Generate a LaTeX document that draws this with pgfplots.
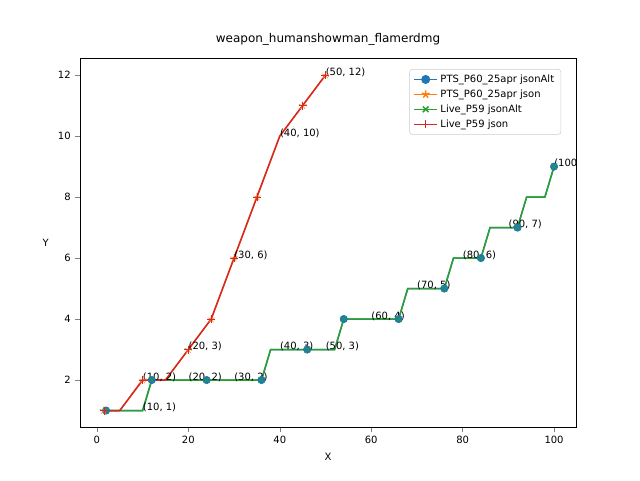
\documentclass[border=0pt]{standalone}
\usepackage{pgfplots}
\pgfplotsset{compat=1.18}
\usepackage{fontspec}
\setmainfont{DejaVu Sans}
\definecolor{mblue}{HTML}{1F77B4}
\definecolor{morange}{HTML}{FF7F0E}
\definecolor{mgreen}{HTML}{2CA02C}
\definecolor{mred}{HTML}{D62728}
\begin{document}
\begin{tikzpicture}
\path[use as bounding box] (0,0) rectangle (480pt,360pt);
\begin{axis}[
  at={(60pt,39.75pt)}, anchor=south west,
  width=372pt, height=276.75pt, scale only axis,
  xmin=-3.7, xmax=104.8, ymin=0.46, ymax=12.56,
  xtick={0,20,...,100}, ytick={2,4,...,12},
  tick align=outside, tick pos=left,
  major tick length=3.5pt,
  ticklabel style={font=\fontsize{7.5}{9}\selectfont},
  /pgf/number format/assume math mode=true,
  xlabel={X}, ylabel={Y},
  xlabel style={font=\fontsize{7.5}{9}\selectfont},
  ylabel style={font=\fontsize{7.5}{9}\selectfont, rotate=-90},
  title={weapon\_humanshowman\_flamerdmg},
  title style={font=\fontsize{9}{11}\selectfont},
  legend pos=north east,
  legend style={font=\fontsize{7.5}{9}\selectfont, draw=black!20, rounded corners=2pt, cells={anchor=west}},
  legend cell align=left,
]
% legend images
\addlegendimage{mblue, line width=1.1pt, mark=*, mark size=2.8pt}
\addlegendentry{PTS\_P60\_25apr jsonAlt}
\addlegendimage{morange, line width=1.1pt, mark=star, mark size=3pt}
\addlegendentry{PTS\_P60\_25apr json}
\addlegendimage{mgreen, line width=1.1pt, mark=x, mark size=3pt}
\addlegendentry{Live\_P59 jsonAlt}
\addlegendimage{mred, line width=1.1pt, mark=+, mark size=3pt}
\addlegendentry{Live\_P59 json}
% blue line
\addplot[mblue, line width=1.1pt, forget plot] coordinates {(2,1)(10,1)(12,2)(36,2)(38,3)(52,3)(54,4)(66,4)(68,5)(76,5)(78,6)(84,6)(86,7)(92,7)(94,8)(98,8)(100,9)};
\addplot[only marks, mblue, mark=*, mark size=2.8pt, forget plot] coordinates {(2,1)(12,2)(24,2)(36,2)(46,3)(54,4)(66,4)(76,5)(84,6)(92,7)(100,9)};
% orange
\addplot[morange, line width=1.1pt, forget plot] coordinates {(1.5,1)(5,1)(10,2)(15,2)(20,3)(25,4)(30,6)(35,8)(40,10)(45,11)(50,12)};
\addplot[only marks, morange, mark=star, mark size=3pt, forget plot] coordinates {(1.5,1)(10,2)(20,3)(25,4)(30,6)(35,8)(45,11)(50,12)};
% green
\addplot[mgreen, line width=1.1pt, forget plot] coordinates {(2,1)(10,1)(12,2)(36,2)(38,3)(52,3)(54,4)(66,4)(68,5)(76,5)(78,6)(84,6)(86,7)(92,7)(94,8)(98,8)(100,9)};
\addplot[only marks, mgreen, mark=x, mark size=3pt, forget plot] coordinates {(2,1)(12,2)(24,2)(36,2)(46,3)(54,4)(66,4)(76,5)(84,6)(92,7)(100,9)};
% red
\addplot[mred, line width=1.1pt, forget plot] coordinates {(1.5,1)(5,1)(10,2)(15,2)(20,3)(25,4)(30,6)(35,8)(40,10)(45,11)(50,12)};
\addplot[only marks, mred, mark=+, mark size=3pt, forget plot] coordinates {(1.5,1)(10,2)(20,3)(25,4)(30,6)(35,8)(45,11)(50,12)};
% annotations
\begin{scope}[every node/.style={anchor=base west, inner sep=0pt, font=\fontsize{7.5}{9}\selectfont}]
\node at (axis cs:10,1) {(10, 1)};
\node at (axis cs:10,2) {(10, 2)};
\node at (axis cs:20,2) {(20, 2)};
\node at (axis cs:30,2) {(30, 2)};
\node at (axis cs:40,3) {(40, 3)};
\node at (axis cs:50,3) {(50, 3)};
\node at (axis cs:60,4) {(60, 4)};
\node at (axis cs:70,5) {(70, 5)};
\node at (axis cs:80,6) {(80, 6)};
\node at (axis cs:90,7) {(90, 7)};
\node at (axis cs:100,9) {(100, 9)};
\node at (axis cs:20,3) {(20, 3)};
\node at (axis cs:30,6) {(30, 6)};
\node at (axis cs:40,10) {(40, 10)};
\node at (axis cs:50,12) {(50, 12)};
\end{scope}
\end{axis}
\end{tikzpicture}
\end{document}
